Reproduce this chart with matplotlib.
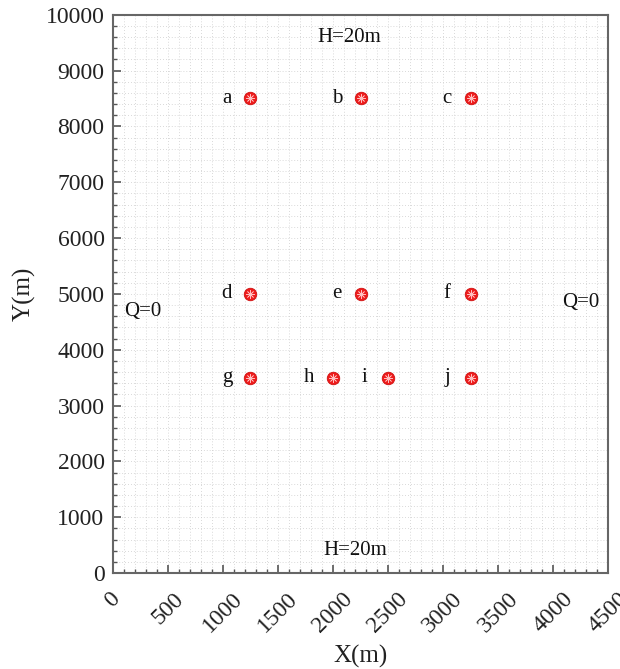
import numpy as np
import matplotlib.pyplot as plt
from matplotlib.ticker import MultipleLocator

# well locations (m)
well_names = ["a", "b", "c", "d", "e", "f", "g", "h", "i", "j"]
well_x = [1250, 2250, 3250, 1250, 2250, 3250, 1250, 2000, 2500, 3250]
well_y = [8500, 8500, 8500, 5000, 5000, 5000, 3500, 3500, 3500, 3500]

# boundary conditions text
bc_text = ["H=20m", "H=20m", "Q=0", "Q=0"]
bc_x = [2150, 2200, 270, 4250]
bc_y = [9600, 400, 4680, 4850]

plt.rcParams['font.family'] = ['Liberation Serif', 'DejaVu Serif']

fig = plt.figure(figsize=(6.2, 6.69), dpi=100)
ax = fig.add_axes([0.182, 0.1435, 0.799, 0.8345])

ax.set_xlim(0, 4500)
ax.set_ylim(0, 10000)

# model grid
ax.xaxis.set_major_locator(MultipleLocator(500))
ax.xaxis.set_minor_locator(MultipleLocator(100))
ax.yaxis.set_major_locator(MultipleLocator(1000))
ax.yaxis.set_minor_locator(MultipleLocator(200))
ax.grid(which='both', color='#cccccc', linestyle=(0, (1, 2.5)), linewidth=0.6)
ax.set_axisbelow(True)

ax.tick_params(which='both', direction='in', color='#555555', labelsize=17,
               labelcolor='#222222')
ax.tick_params(which='major', length=6, width=1.2)
ax.tick_params(which='minor', length=3, width=1.0)
ax.tick_params(axis='y', which='major', pad=6)
ax.tick_params(axis='x', which='major', pad=11)
for lbl in ax.get_xticklabels():
    lbl.set_rotation(45)
    lbl.set_ha('center')
for s in ax.spines.values():
    s.set_color('#666666')
    s.set_linewidth(1.5)

# pumping wells
ax.plot(well_x, well_y, 'o', color='#ee1c1c', markersize=9,
        markeredgecolor='#d01010', markeredgewidth=0.6,
        linestyle='none', zorder=3)
ax.plot(well_x, well_y, marker=(8, 2, 0), color='#ffc0c0', markersize=6,
        markeredgewidth=0.5, linestyle='none', zorder=4)
for name, x, y in zip(well_names, well_x, well_y):
    ax.annotate(name, (x, y), xytext=(-17, 0), textcoords='offset points',
                ha='center', va='center', fontsize=15, color='#111111')

for t, x, y in zip(bc_text, bc_x, bc_y):
    ax.text(x, y, t, ha='center', va='center', fontsize=15, color='#111111')

ax.set_xlabel("X(m)", fontsize=18, color='#222222', labelpad=6)
ax.set_ylabel("Y(m)", fontsize=18, color='#222222', labelpad=7)

plt.savefig("out.png", dpi=100)
